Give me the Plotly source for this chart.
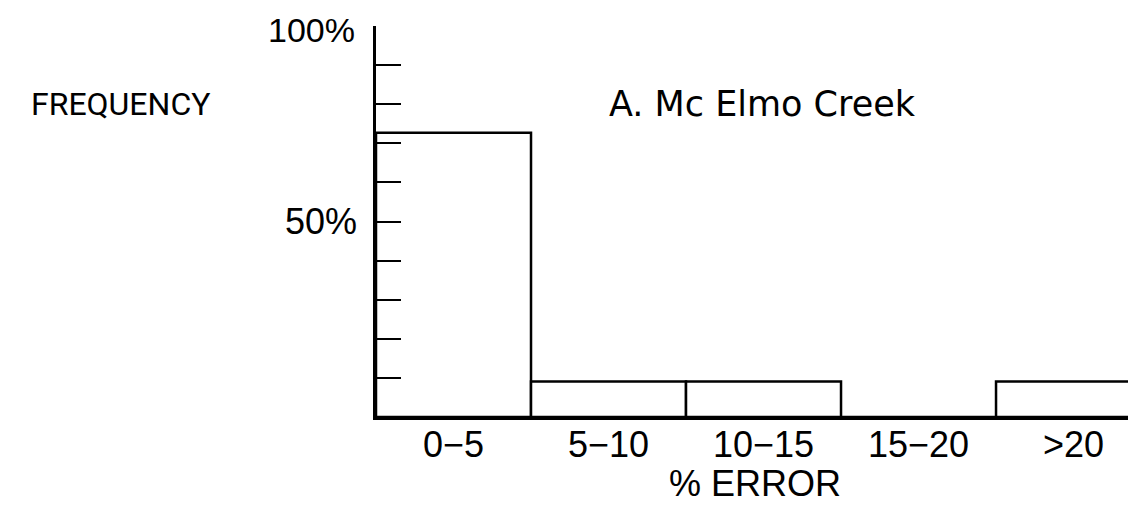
import plotly.graph_objects as go

categories = ["0-5", "5-10", "10-15", "15-20", ">20"]
tick_labels = ["0−5", "5−10", "10−15", "15−20", ">20"]
frequency_pct = [72.7, 9.1, 9.1, 0.0, 9.1]
y_tick_vals = [10, 20, 30, 40, 50, 60, 70, 80, 90, 100]
y_tick_text = ["", "", "", "", "50%", "", "", "", "", ""]
top_label = "100%"

FONT = "Liberation Sans"
WIDE = "DejaVu Sans"
NARROW = "Roboto"
x_pos = [i + 0.5 for i in range(len(categories))]

fig = go.Figure()
fig.add_trace(go.Bar(
    x=x_pos, y=frequency_pct, width=1.0,
    marker=dict(color="white", line=dict(color="black", width=2.5)),
    hoverinfo="skip", showlegend=False,
))

# page body has an 8px margin, so the figure is offset by (8, 8)
fig.update_layout(
    width=1128, height=500,
    margin=dict(l=368, r=0, t=18, b=91, autoexpand=False),
    paper_bgcolor="white", plot_bgcolor="white",
    font=dict(family=FONT, color="black"),
    xaxis=dict(
        range=[0, 4.903], showgrid=False, zeroline=False,
        showline=True, linecolor="black", linewidth=2.5,
        tickvals=x_pos, ticktext=tick_labels, ticks="",
        tickfont=dict(size=36, family=FONT, color="black"),
        ticklabelstandoff=-6, ticklabeloverflow="allow",
    ),
    yaxis=dict(
        range=[0, 100], showgrid=False, zeroline=False,
        showline=True, linecolor="black", linewidth=2.5,
        tickvals=y_tick_vals, ticktext=y_tick_text,
        ticks="inside", ticklen=25, tickwidth=2, tickcolor="black",
        tickfont=dict(size=36, family=FONT, color="black"),
        ticklabelstandoff=9, ticklabeloverflow="allow",
    ),
    annotations=[
        dict(text=top_label, xref="paper", yref="paper", x=-0.025, y=1.0435,
             showarrow=False, xanchor="right", yanchor="top",
             font=dict(size=34, family=FONT, color="black")),
        dict(text="FREQUENCY", xref="paper", yref="paper", x=-0.2158, y=0.8005,
             showarrow=False, xanchor="right", yanchor="middle",
             font=dict(size=32, family=NARROW, color="black")),
        dict(text="A. Mc Elmo Creek", xref="paper", yref="paper", x=0.304, y=0.8005,
             showarrow=False, xanchor="left", yanchor="middle",
             font=dict(size=35, family=WIDE, color="black")),
        dict(text="% ERROR", xref="paper", yref="paper", x=0.383, y=-0.171,
             showarrow=False, xanchor="left", yanchor="middle",
             font=dict(size=36, family=FONT, color="black")),
    ],
)

fig.write_html("out.html")
